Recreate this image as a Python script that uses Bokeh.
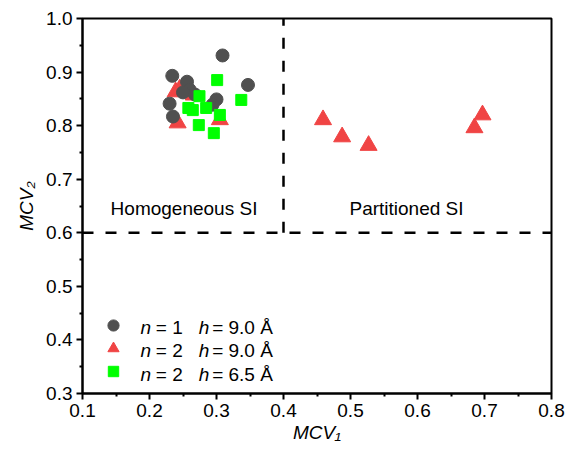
import math
from bokeh.plotting import figure
from bokeh.models import Range1d, Label, Legend, LegendItem, FixedTicker, NumeralTickFormatter
from bokeh.embed import file_html
from bokeh.resources import INLINE

# ---- data ----
n1_h90_x = [0.309, 0.234, 0.256, 0.347, 0.260, 0.250, 0.268, 0.230, 0.300, 0.294, 0.235]
n1_h90_y = [0.931, 0.893, 0.882, 0.876, 0.867, 0.862, 0.858, 0.841, 0.849, 0.839, 0.817]

n2_h90_x = [0.239, 0.245, 0.266, 0.242, 0.305, 0.459, 0.4875, 0.527, 0.697, 0.685]
n2_h90_y = [0.863, 0.868, 0.857, 0.805, 0.811, 0.811, 0.779, 0.763, 0.820, 0.796]

n2_h65_x = [0.301, 0.337, 0.2746, 0.258, 0.2646, 0.2846, 0.305, 0.2736, 0.296]
n2_h65_y = [0.885, 0.848, 0.855, 0.833, 0.829, 0.833, 0.820, 0.801, 0.786]

x_ticks = [0.1, 0.2, 0.3, 0.4, 0.5, 0.6, 0.7, 0.8]
y_ticks = [0.3, 0.4, 0.5, 0.6, 0.7, 0.8, 0.9, 1.0]
boundary_x = 0.4
boundary_y = 0.6

FONT = "Liberation Sans"
FS = "19px"
GRAY = "#505050"
RED = "#f04444"
GREEN = "#00ff00"

p = figure(width=566, height=445, output_backend="svg", toolbar_location=None,
           x_range=Range1d(0.1, 0.8), y_range=Range1d(0.3, 1.0),
           min_border_left=82, min_border_right=15, min_border_top=18, min_border_bottom=49)
p.grid.visible = False
p.outline_line_color = "black"
p.outline_line_width = 2
p.background_fill_color = "white"
p.border_fill_color = "white"

for ax in (p.xaxis[0], p.yaxis[0]):
    ax.axis_line_width = 2
    ax.axis_line_color = "black"
    ax.major_tick_line_width = 2
    ax.minor_tick_line_width = 2
    ax.major_tick_out = 6
    ax.major_tick_in = 0
    ax.minor_tick_out = 3
    ax.minor_tick_in = 0
    ax.major_label_text_font = FONT
    ax.major_label_text_font_size = FS
    ax.major_label_text_color = "black"
    ax.formatter = NumeralTickFormatter(format="0.0")
    ax.axis_label_text_font = FONT
    ax.axis_label_text_font_size = FS
    ax.axis_label_text_font_style = "italic"
    ax.axis_label_text_color = "black"

p.xaxis[0].ticker = FixedTicker(ticks=x_ticks, minor_ticks=[v + 0.05 for v in x_ticks[:-1]])
p.yaxis[0].ticker = FixedTicker(ticks=y_ticks, minor_ticks=[v + 0.05 for v in y_ticks[:-1]])
p.xaxis.major_label_standoff = 4
p.yaxis.major_label_standoff = 4
p.xaxis.axis_label = "MCV\u2081"
p.yaxis.axis_label = "MCV\u2082"
p.xaxis.axis_label_standoff = 2
p.yaxis.axis_label_standoff = 6

# boundaries
p.line([boundary_x, boundary_x], [boundary_y, 1.0], line_color="black", line_width=2.5, line_dash="11 12")
p.line([0.1, 0.8], [boundary_y, boundary_y], line_color="black", line_width=2.5, line_dash="11 12")

r_red = p.scatter(n2_h90_x, n2_h90_y, marker="triangle", size=17, fill_color=RED, line_color=RED)
r_gray = p.scatter(n1_h90_x, n1_h90_y, marker="circle", size=13, fill_color=GRAY, line_color=GRAY)
r_green = p.scatter(n2_h65_x, n2_h65_y, marker="square", size=11, fill_color=GREEN, line_color=GREEN)

for rend, off, gw, gh in ((r_gray, 53, 28, 30), (r_red, 30, 28, 30), (r_green, 7, 28, 26)):
    lg = Legend(items=[LegendItem(label=" ", renderers=[rend])],
                location=(17, off + (30 - gh) // 2), padding=0, margin=0, spacing=0,
                glyph_width=gw, glyph_height=gh, label_height=gh, label_width=0,
                label_standoff=0, border_line_color=None, background_fill_alpha=0,
                label_text_font_size="1px")
    p.add_layout(lg, "center")

def lab(**kw):
    base = dict(text_font=FONT, text_font_size=FS, text_color="black")
    base.update(kw)
    p.add_layout(Label(**base))

# legend texts (data coordinates)
rows_y = [0.423, 0.380, 0.336]
n_vals = ["1", "2", "2"]
h_vals = ["9.0 Å", "9.0 Å", "6.5 Å"]
for yy, nv, hv in zip(rows_y, n_vals, h_vals):
    lab(x=0.1866, y=yy, text="n", text_font_style="italic", text_baseline="middle")
    lab(x=0.2095, y=yy, text="= " + nv, text_baseline="middle")
    lab(x=0.2735, y=yy, text="h", text_font_style="italic", text_baseline="middle")
    lab(x=0.2935, y=yy, text="= " + hv, text_baseline="middle")

lab(x=0.2515, y=0.646, text="Homogeneous SI", text_align="center", text_baseline="middle")
lab(x=0.5836, y=0.646, text="Partitioned SI", text_align="center", text_baseline="middle")

open("out.html", "w").write(file_html(p, INLINE))
